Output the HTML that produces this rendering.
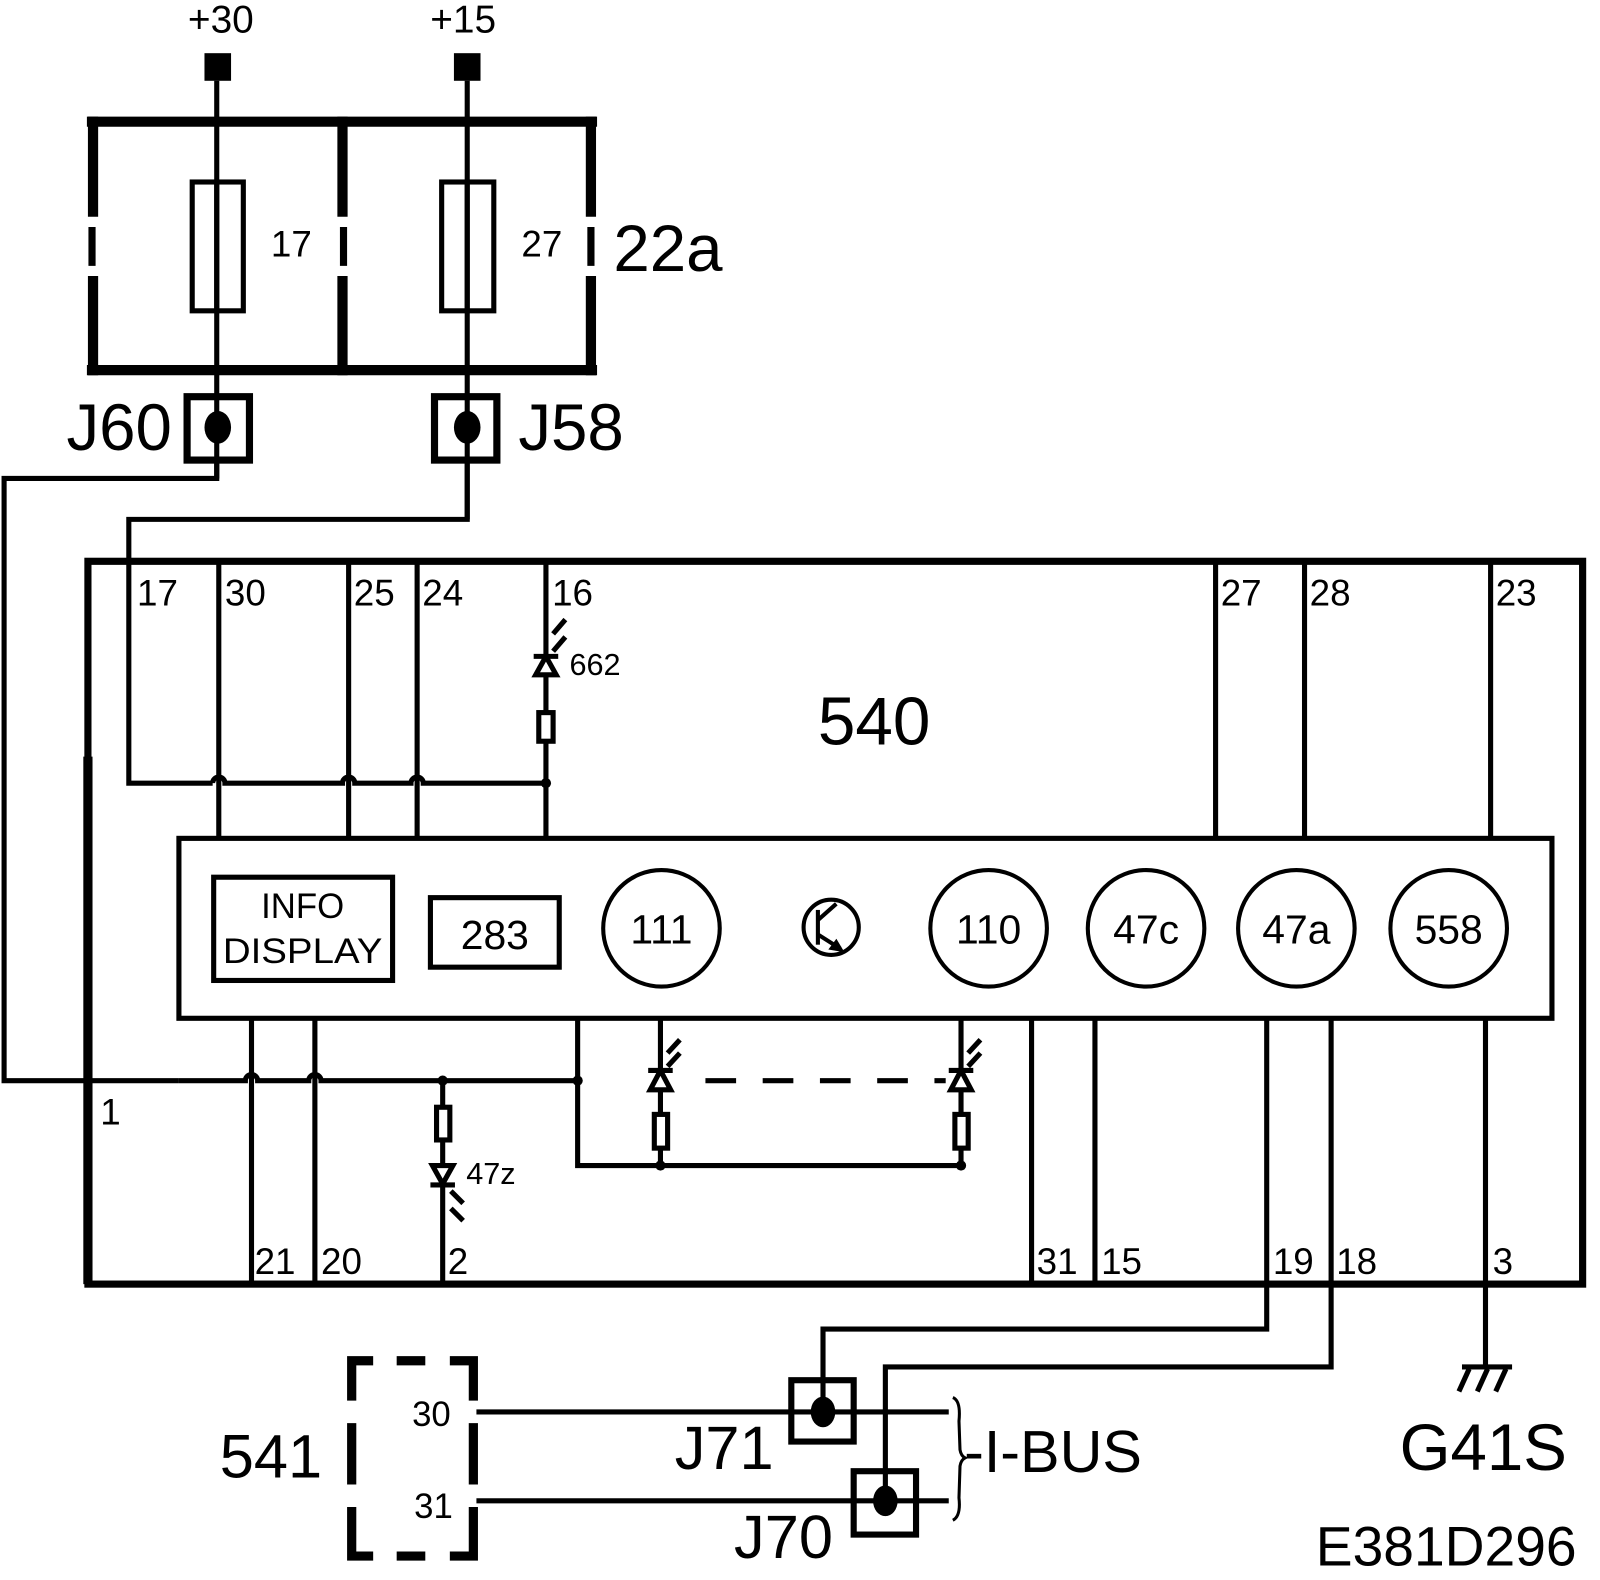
<!DOCTYPE html>
<html><head><meta charset="utf-8"><style>html,body{margin:0;padding:0;background:#fff}svg{display:block}</style></head>
<body>
<svg width="1600" height="1580" viewBox="0 0 1565 1545.4" xmlns="http://www.w3.org/2000/svg" font-family="Liberation Sans, Arial, sans-serif" fill="none" stroke="#000">
<rect x="0" y="0" width="1565" height="1546" fill="#fff" stroke="none"/>
<g stroke-width="5">
<line x1="212" y1="79" x2="212" y2="468"/>
<line x1="457" y1="79" x2="457" y2="508"/>
</g>
<rect x="200" y="52" width="26" height="27" fill="#000" stroke="none"/>
<rect x="444" y="52" width="26" height="27" fill="#000" stroke="none"/>
<g fill="#000" stroke="none" font-size="38">
<text x="216" y="32" text-anchor="middle">+30</text>
<text x="453" y="32" text-anchor="middle">+15</text>
</g>
<g stroke-width="10">
<line x1="85" y1="119" x2="584" y2="119"/>
<line x1="85" y1="362" x2="584" y2="362"/>
<line x1="91" y1="114" x2="91" y2="212"/>
<line x1="91" y1="270" x2="91" y2="367"/>
<line x1="578" y1="114" x2="578" y2="212"/>
<line x1="578" y1="270" x2="578" y2="367"/>
<line x1="335" y1="114" x2="335" y2="212"/>
<line x1="335" y1="270" x2="335" y2="367"/>
</g>
<g stroke-width="7">
<line x1="90" y1="222" x2="90" y2="260"/>
<line x1="578" y1="222" x2="578" y2="260"/>
<line x1="336" y1="222" x2="336" y2="260"/>
</g>
<rect x="188" y="178" width="50" height="126" stroke-width="5" fill="none"/>
<rect x="432" y="178" width="51" height="126" stroke-width="5" fill="none"/>
<line x1="212" y1="176" x2="212" y2="306" stroke-width="5"/>
<line x1="457" y1="176" x2="457" y2="306" stroke-width="5"/>
<g fill="#000" stroke="none">
<text x="285" y="251" font-size="36" text-anchor="middle">17</text>
<text x="530" y="251" font-size="36" text-anchor="middle">27</text>
<text x="600" y="265" font-size="64">22a</text>
<text x="65" y="440" font-size="64">J60</text>
<text x="507" y="440" font-size="64">J58</text>
</g>
<rect x="183" y="388" width="61" height="62" stroke-width="7"/>
<rect x="425" y="388" width="61" height="62" stroke-width="7"/>
<ellipse cx="213" cy="418" rx="13" ry="16" fill="#000" stroke="none"/>
<ellipse cx="457" cy="418" rx="13" ry="16" fill="#000" stroke="none"/>
<g stroke-width="5">
<polyline points="212,450 212,468 4,468 4,1057 175,1057"/>
<polyline points="457,450 457,508 126,508 126,766 208,766"/>
<path d="M208,766 A6,6 0 0 1 220,766 L335,766 A6,6 0 0 1 347,766 L402,766 A6,6 0 0 1 414,766 L534,766"/>
</g>
<rect x="86" y="549" width="1462" height="707" stroke-width="7"/>
<line x1="86" y1="740" x2="86" y2="1256" stroke-width="9"/>
<g stroke-width="5">
<line x1="214" y1="552" x2="214" y2="820"/>
<line x1="341" y1="552" x2="341" y2="820"/>
<line x1="408" y1="552" x2="408" y2="820"/>
<line x1="534" y1="552" x2="534" y2="640"/>
<line x1="534" y1="660" x2="534" y2="697"/>
<line x1="534" y1="725" x2="534" y2="820"/>
<line x1="1189" y1="552" x2="1189" y2="820"/>
<line x1="1276" y1="552" x2="1276" y2="820"/>
<line x1="1458" y1="552" x2="1458" y2="820"/>
</g>
<rect x="175" y="820" width="1343" height="176" stroke-width="5" fill="#fff"/>
<g fill="#000" stroke="none" font-size="36">
<text x="134" y="592">17</text>
<text x="220" y="592">30</text>
<text x="346" y="592">25</text>
<text x="413" y="592">24</text>
<text x="540" y="592">16</text>
<text x="1194" y="592">27</text>
<text x="1281" y="592">28</text>
<text x="1463" y="592">23</text>
<text x="98" y="1100">1</text>
<text x="249" y="1246">21</text>
<text x="314" y="1246">20</text>
<text x="438" y="1246">2</text>
<text x="1014" y="1246">31</text>
<text x="1077" y="1246">15</text>
<text x="1245" y="1246">19</text>
<text x="1307" y="1246">18</text>
<text x="1460" y="1246">3</text>
<text x="855" y="728" font-size="66" text-anchor="middle">540</text>
<text x="557" y="660" font-size="30">662</text>
<text x="456" y="1158" font-size="30">47z</text>
</g>
<circle cx="534" cy="766" r="5" fill="#000" stroke="none"/>
<polygon points="534,642 524,660 544,660" stroke-width="5" fill="#fff"/>
<line x1="522" y1="642" x2="546" y2="642" stroke-width="5"/>
<rect x="527" y="697" width="14" height="28" stroke-width="5"/>
<g stroke-width="5"><line x1="541" y1="620" x2="553" y2="606"/><line x1="541" y1="637" x2="553" y2="623"/></g>
<rect x="209" y="858" width="175" height="101" stroke-width="5"/>
<g fill="#000" stroke="none">
<text x="296" y="898" font-size="34" text-anchor="middle">INFO</text>
<text x="296" y="942" font-size="34" text-anchor="middle" textLength="156" lengthAdjust="spacingAndGlyphs">DISPLAY</text>
</g>
<rect x="421" y="878" width="126" height="68" stroke-width="5"/>
<text x="484" y="928" font-size="40" text-anchor="middle" fill="#000" stroke="none">283</text>
<g stroke-width="4">
<circle cx="647" cy="908" r="57"/>
<circle cx="967" cy="908" r="57"/>
<circle cx="1121" cy="908" r="57"/>
<circle cx="1268" cy="908" r="57"/>
<circle cx="1417" cy="908" r="57"/>
<circle cx="813" cy="907" r="27"/>
<line x1="800" y1="890" x2="800" y2="924"/>
<line x1="800" y1="900" x2="818" y2="884"/>
<line x1="800" y1="914" x2="822" y2="928"/>
</g>
<polygon points="824,930 812,928 818,920" fill="#000" stroke="#000" stroke-width="2"/>
<g fill="#000" stroke="none" font-size="40" text-anchor="middle">
<text x="647" y="923">111</text>
<text x="967" y="923">110</text>
<text x="1121" y="923">47c</text>
<text x="1268" y="923">47a</text>
<text x="1417" y="923">558</text>
</g>
<g stroke-width="5">
<path d="M175,1057 L240,1057 A6,6 0 0 1 252,1057 L302,1057 A6,6 0 0 1 314,1057 L565,1057"/>
<line x1="246" y1="996" x2="246" y2="1256"/>
<line x1="308" y1="996" x2="308" y2="1256"/>
<line x1="433" y1="1057" x2="433" y2="1256"/>
<polyline points="565,996 565,1140 940,1140"/>
<line x1="646" y1="996" x2="646" y2="1140"/>
<line x1="940" y1="996" x2="940" y2="1140"/>
<line x1="1009" y1="996" x2="1009" y2="1256"/>
<line x1="1071" y1="996" x2="1071" y2="1256"/>
<polyline points="1239,996 1239,1300 805,1300 805,1380"/>
<polyline points="1302,996 1302,1337 866,1337 866,1468"/>
<polyline points="1453,996 1453,1337"/>
<line x1="690" y1="1057" x2="925" y2="1057" stroke-dasharray="30,26"/>
</g>
<g fill="#000" stroke="none">
<circle cx="433" cy="1057" r="5"/><circle cx="565" cy="1057" r="5"/>
<circle cx="646" cy="1140" r="5"/><circle cx="940" cy="1140" r="5"/>
</g>
<rect x="427" y="1083" width="13" height="32" stroke-width="5" fill="#fff"/>
<polygon points="433,1158 423,1140 443,1140" stroke-width="5" fill="#fff"/>
<line x1="421" y1="1159" x2="445" y2="1159" stroke-width="5"/>
<g stroke-width="5"><line x1="441" y1="1165" x2="453" y2="1177"/><line x1="441" y1="1182" x2="453" y2="1194"/></g>
<g stroke-width="5" fill="#fff">
<polygon points="646,1047 636,1066 656,1066"/>
<polygon points="940,1047 930,1066 950,1066"/>
<rect x="640" y="1090" width="13" height="33"/>
<rect x="934" y="1090" width="13" height="33"/>
<line x1="634" y1="1047" x2="658" y2="1047"/>
<line x1="928" y1="1047" x2="952" y2="1047"/>
<line x1="653" y1="1030" x2="665" y2="1017"/><line x1="653" y1="1043" x2="665" y2="1030"/>
<line x1="947" y1="1030" x2="959" y2="1017"/><line x1="947" y1="1043" x2="959" y2="1030"/>
</g>
<g stroke-width="5">
<line x1="1430" y1="1337" x2="1479" y2="1337"/>
<line x1="1437" y1="1339" x2="1427" y2="1361"/>
<line x1="1455" y1="1339" x2="1445" y2="1361"/>
<line x1="1473" y1="1339" x2="1463" y2="1361"/>
</g>
<g stroke-width="9">
<polyline points="365,1331 344,1331 344,1370"/>
<line x1="344" y1="1392" x2="344" y2="1452"/>
<polyline points="344,1474 344,1522 365,1522"/>
<line x1="388" y1="1331" x2="416" y2="1331"/>
<line x1="388" y1="1522" x2="416" y2="1522"/>
<polyline points="440,1331 463,1331 463,1370"/>
<line x1="463" y1="1392" x2="463" y2="1452"/>
<polyline points="463,1474 463,1522 440,1522"/>
</g>
<g stroke-width="5">
<line x1="466" y1="1381" x2="928" y2="1381"/>
<line x1="466" y1="1468" x2="928" y2="1468"/>
</g>
<rect x="774" y="1350" width="61" height="60" stroke-width="6"/>
<rect x="835" y="1439" width="61" height="62" stroke-width="6"/>
<ellipse cx="805" cy="1381" rx="12" ry="15" fill="#000" stroke="none"/>
<ellipse cx="866" cy="1468" rx="12" ry="15" fill="#000" stroke="none"/>
<path d="M932,1367 Q940,1370 938,1390 L939,1418 Q940,1424 944,1426 Q940,1428 939,1434 L938,1465 Q940,1483 932,1487" stroke-width="3"/>
<g fill="#000" stroke="none">
<text x="422" y="1395" font-size="34" text-anchor="middle">30</text>
<text x="424" y="1485" font-size="34" text-anchor="middle">31</text>
<text x="215" y="1445" font-size="60">541</text>
<text x="660" y="1437" font-size="60">J71</text>
<text x="718" y="1524" font-size="60">J70</text>
<text x="943" y="1440" font-size="58">-I-BUS</text>
<text x="1369" y="1438" font-size="64">G41S</text>
<text x="1287" y="1531" font-size="54">E381D296</text>
</g>
</svg>
</body></html>
